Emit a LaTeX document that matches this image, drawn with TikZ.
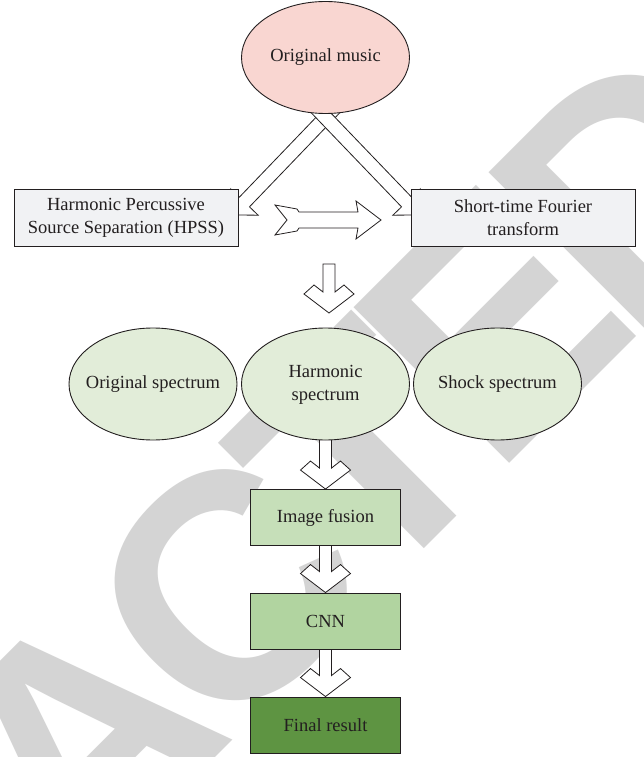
\documentclass[tikz,border=0pt]{standalone}
\usepackage{fontspec}
\setmainfont{Liberation Serif}
\newfontfamily\wmfont{Liberation Sans}
\usetikzlibrary{shapes.geometric,calc}
\pgfdeclarelayer{wmlayer}
\pgfdeclarelayer{arrowlayer}
\pgfsetlayers{wmlayer,arrowlayer,main}
\definecolor{pinkc}{HTML}{F9D6D1}
\definecolor{boxgray}{HTML}{F1F2F4}
\definecolor{lgreen}{HTML}{E2EDD9}
\definecolor{fusc}{HTML}{C6DFB9}
\definecolor{cnnc}{HTML}{B1D4A0}
\definecolor{finc}{HTML}{5E9442}
\definecolor{wmgray}{HTML}{D4D4D4}
\definecolor{inkc}{HTML}{231F20}
\newcommand\dnblock[2]{%
  \draw[blk] let \p1=(#1), \p2=(#2) in
    (\x2-6pt,\y1+3pt) -- (\x2-6pt,\y2+21pt) -- (\x2-15pt,\y2+28pt) -- (\x2-25pt,\y2+19pt)
    -- (\x2,\y2) -- (\x2+25pt,\y2+19pt) -- (\x2+15pt,\y2+28pt) -- (\x2+6pt,\y2+21pt)
    -- (\x2+6pt,\y1+3pt) -- cycle;}
\newcommand\diagblock[2]{%
  \coordinate (hb) at ($(#2)!18pt!(#1)$);
  \draw[blk] ($(#1)!7pt!90:(#2)$) -- ($(hb)!7pt!90:(#2)$) -- ($(hb)!19pt!90:(#2)$) -- (#2)
    -- ($(hb)!19pt!-90:(#2)$) -- ($(hb)!7pt!-90:(#2)$) -- ($(#1)!7pt!-90:(#2)$) -- cycle;}
\newcommand\wk{\kern-22pt }
\begin{document}
\begin{tikzpicture}[x=1pt,y=-1pt,
  txtfont/.style={font=\fontsize{18.5}{23}\selectfont, text=inkc},
  ell/.style={ellipse, draw=inkc, line width=0.9pt, minimum width=168pt, minimum height=112pt, inner sep=0pt, txtfont},
  bigbox/.style={rectangle, draw=inkc, line width=0.9pt, fill=boxgray, minimum width=224pt, minimum height=57pt, inner sep=0pt, align=center, txtfont},
  smallbox/.style={rectangle, draw=inkc, line width=0.9pt, minimum width=150pt, minimum height=56pt, inner sep=0pt, align=center, txtfont},
  blk/.style={draw=inkc, fill=white, line width=0.8pt, line join=miter}]
\useasboundingbox (0,0) rectangle (643,757);

% watermark
\begin{pgfonlayer}{wmlayer}
\fill[white] (0,0) rectangle (643,757);
\begin{scope}
\clip (0,0) rectangle (643,757);
\node[rotate=45, anchor=base west, inner sep=0pt, text=wmgray,
      font=\wmfont\bfseries\fontsize{320}{320}\selectfont] (wm) at (-478,1451)
      {R\wk E\wk T\wk R\wk A\wk C\wk T\wk E\wk D};
\end{scope}
\end{pgfonlayer}

% nodes
\node[ell, fill=pinkc] (music) at (325.5,57.5) {\makebox[0pt]{Original music}};
\node[bigbox] (hpss) at (126,217.5) {Harmonic Percussive\\Source Separation (HPSS)};
\node[bigbox] (stft) at (523,217.5) {Short-time Fourier\\transform};
\node[ell, fill=lgreen] (orig) at (153,384) {\makebox[0pt]{Original spectrum}};
\node[ell, fill=lgreen] (harm) at (325.5,384) {\makebox[0pt]{\begin{tabular}{@{}c@{}}Harmonic\\spectrum\end{tabular}}};
\node[ell, fill=lgreen] (shock) at (497.5,384) {\makebox[0pt]{Shock spectrum}};
\node[smallbox, fill=fusc] (fusion) at (325.5,517.5) {Image fusion};
\node[smallbox, fill=cnnc] (cnn) at (325.5,621) {CNN};
\node[smallbox, fill=finc] (final) at (325.5,725) {Final result};

% free ends
\coordinate (ltail) at ($(music.south)+(14.5,-11.5)$);
\coordinate (ltip) at ($(hpss.east)+(-6.5,-2.5)$);
\coordinate (rtail) at ($(music.south)+(-14.5,-11.5)$);
\coordinate (rtip) at ($(stft.west)+(8.5,-2.5)$);
\coordinate (h1) at (275,220);
\coordinate (h2) at (381,220);
\coordinate (dtop) at (329,267);
\coordinate (dtip) at (329,313);

\begin{pgfonlayer}{arrowlayer}
\diagblock{ltail}{ltip}
\diagblock{rtail}{rtip}
\draw[blk] ($(h1)+(0,-15)$) -- ($(h1)+(22,-11)$) -- ($(h1)+(24,-8)$) -- ($(h2)+(-23,-8)$)
  -- ($(h2)+(-25,-19)$) -- (h2) -- ($(h2)+(-25,19)$) -- ($(h2)+(-23,8)$)
  -- ($(h1)+(24,8)$) -- ($(h1)+(22,11)$) -- ($(h1)+(0,15)$) -- ($(h1)+(12,0)$) -- cycle;
\dnblock{dtop}{dtip}
\dnblock{harm.south}{fusion.north}
\dnblock{fusion.south}{cnn.north}
\dnblock{cnn.south}{final.north}
\end{pgfonlayer}
\end{tikzpicture}
\end{document}
